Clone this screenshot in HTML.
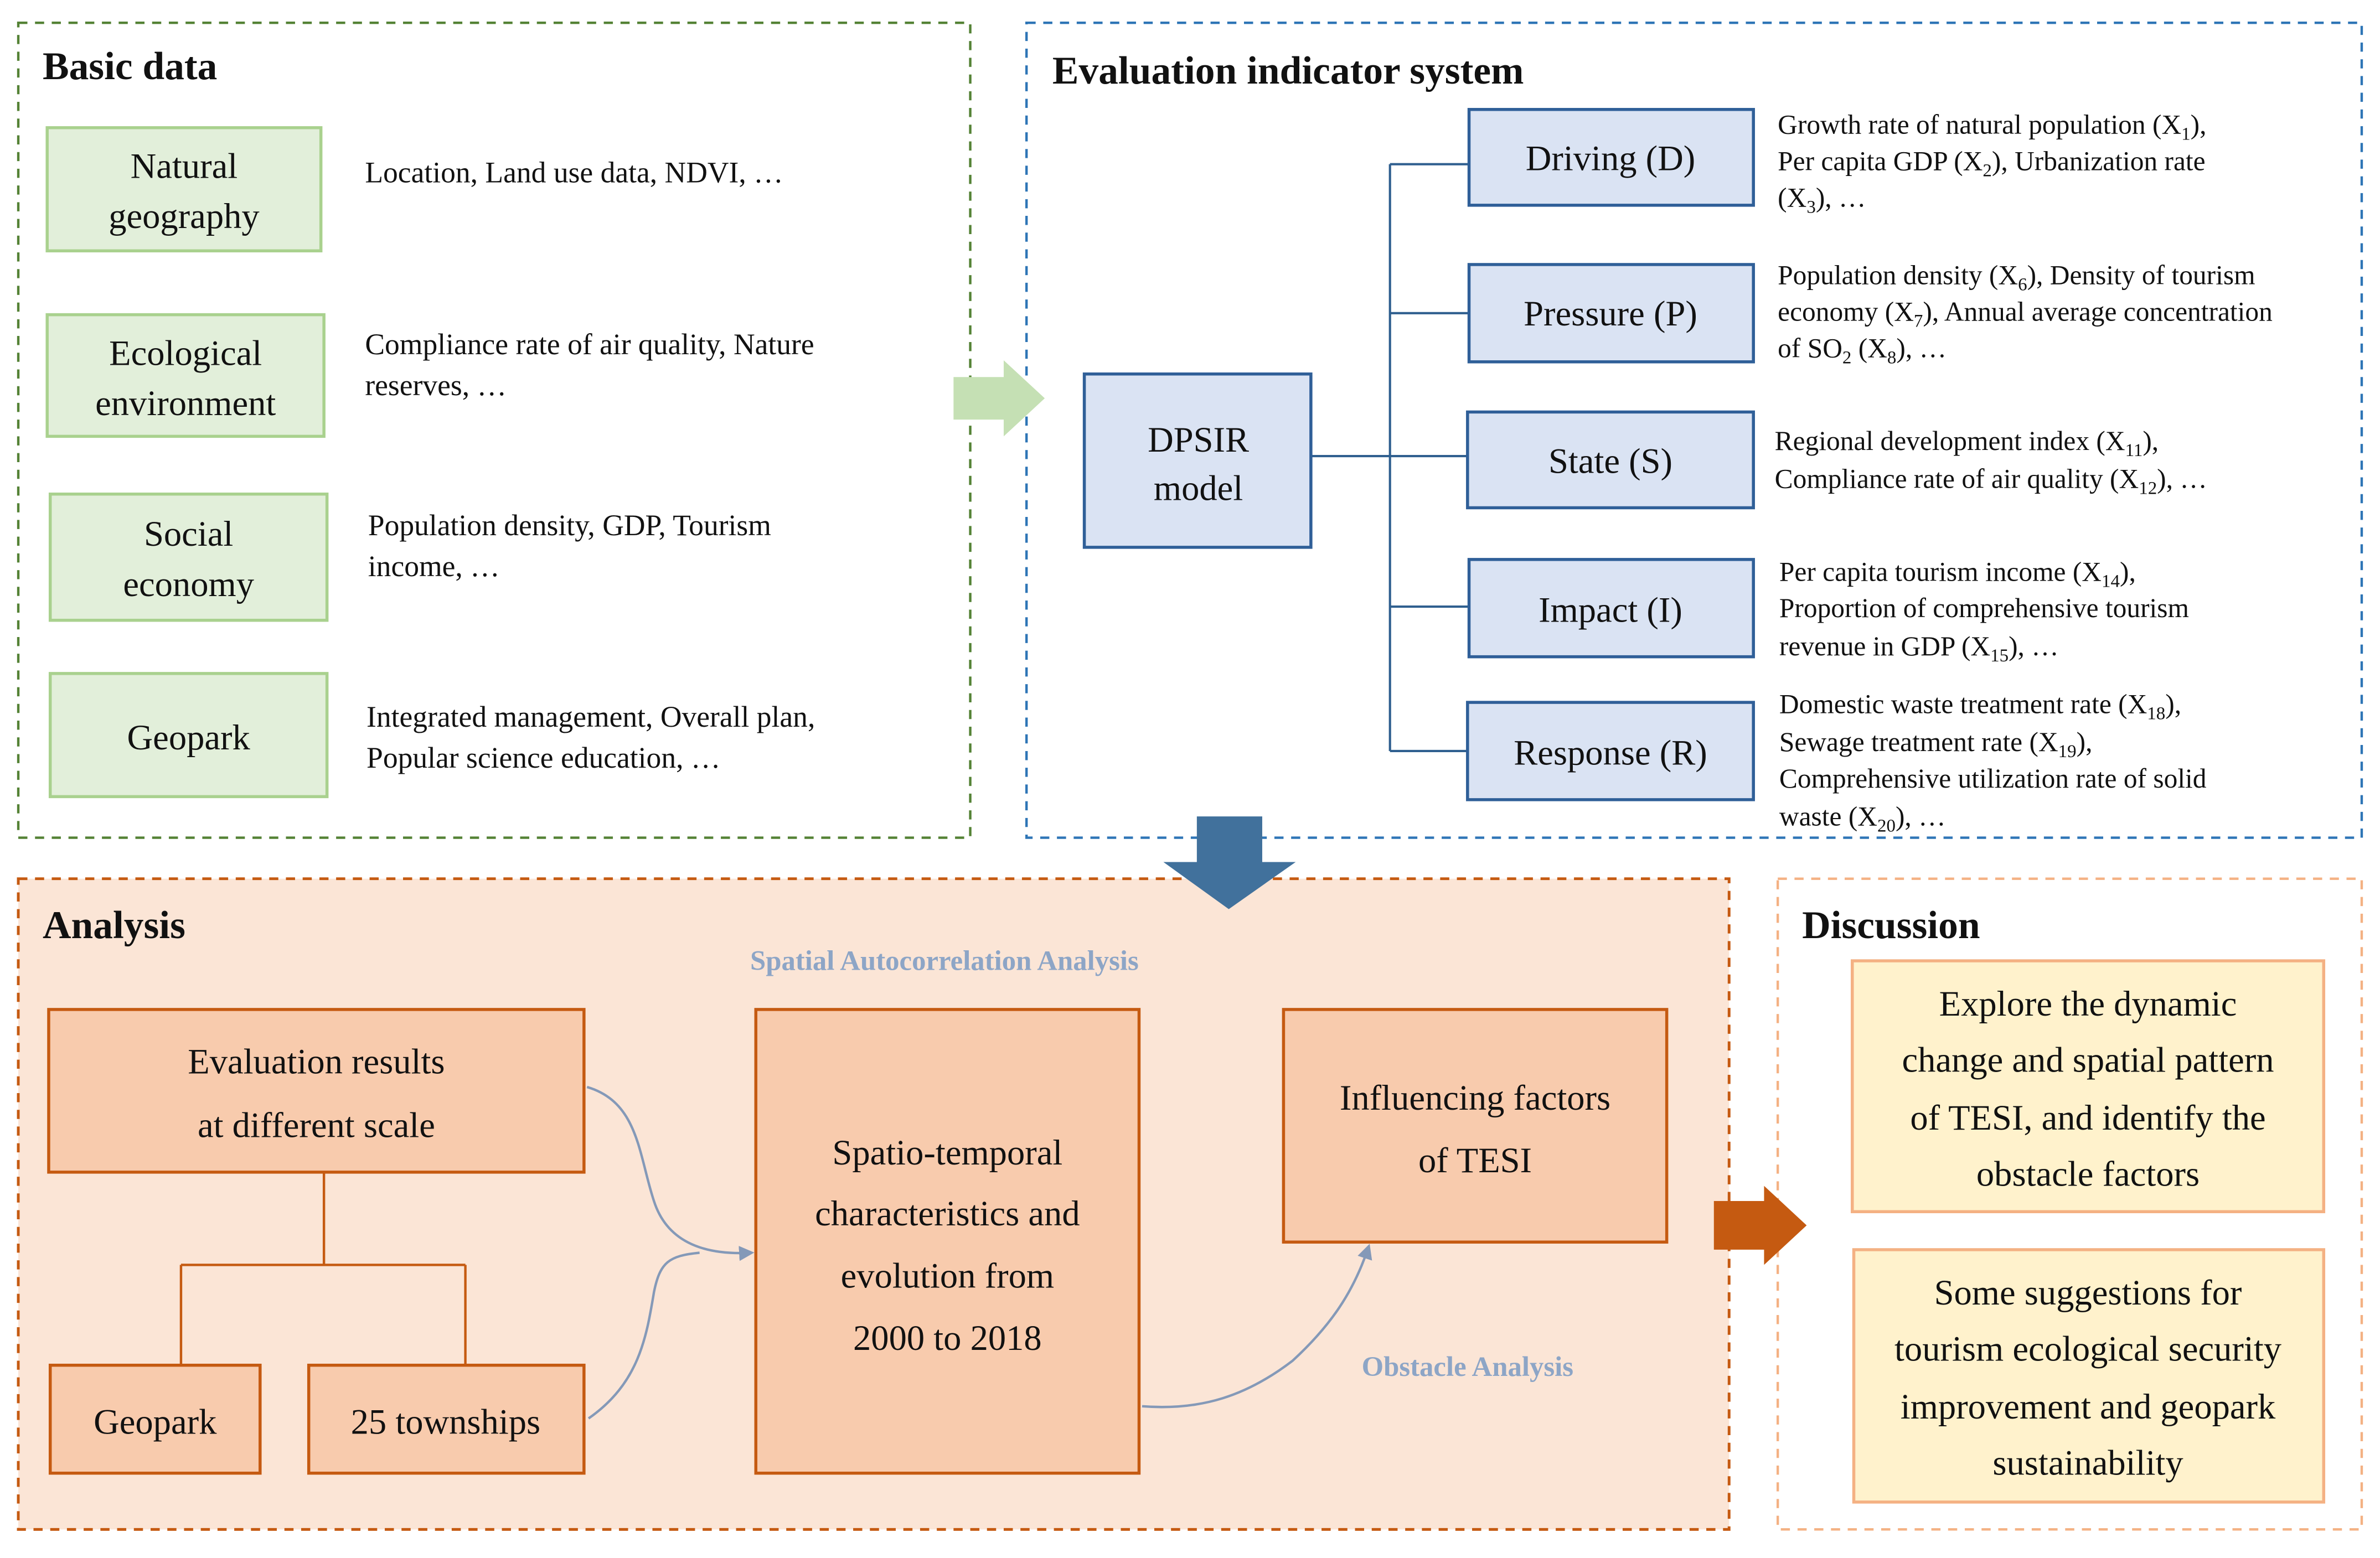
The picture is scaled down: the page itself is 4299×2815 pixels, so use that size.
<!DOCTYPE html>
<html><head><meta charset="utf-8"><style>html,body{margin:0;padding:0;background:#fff}svg{display:block}svg text{font-family:"Liberation Serif","Noto Serif CJK SC","DejaVu Serif",serif;font-weight:normal;fill:#111}.t{font-size:23.5px}.d{font-size:19.5px}.r{font-size:18px}svg text.h{font-size:26px;font-weight:bold}.c{text-anchor:middle}svg text.b{font-size:18.5px;font-weight:bold;fill:#8da5c6}</style></head><body>
<svg width="4299" height="2815" viewBox="0 0 1565 1024.8" xmlns="http://www.w3.org/2000/svg">
<defs><marker id="ar" markerWidth="10" markerHeight="10" refX="8" refY="5" orient="auto" markerUnits="userSpaceOnUse"><path d="M0,0 L10,5 L0,10 z" fill="#8499b8"/></marker></defs>
<rect x="12" y="15" width="626" height="536" fill="#fff" stroke="#548235" stroke-width="1.6" stroke-dasharray="6,5"/>
<text x="28" y="52" class="h">Basic data</text>
<g fill="#e2efda" stroke="#a9d18e" stroke-width="2">
<rect x="31" y="84" width="180" height="81"/><rect x="31" y="207" width="182" height="80"/><rect x="33" y="325" width="182" height="83"/><rect x="33" y="443" width="182" height="81"/></g>
<text class="t c" x="121" y="117">Natural</text><text class="t c" x="121" y="150">geography</text>
<text class="t c" x="122" y="240">Ecological</text><text class="t c" x="122" y="273">environment</text>
<text class="t c" x="124" y="359">Social</text><text class="t c" x="124" y="392">economy</text>
<text class="t c" x="124" y="493">Geopark</text>
<text class="d" x="240" y="120">Location, Land use data, NDVI, …</text>
<text class="d" x="240" y="233">Compliance rate of air quality, Nature</text><text class="d" x="240" y="260">reserves, …</text>
<text class="d" x="242" y="352">Population density, GDP, Tourism</text><text class="d" x="242" y="379">income, …</text>
<text class="d" x="241" y="478">Integrated management, Overall plan,</text><text class="d" x="241" y="505">Popular science education, …</text>
<rect x="675" y="15" width="878" height="536" fill="#fff" stroke="#2e75b6" stroke-width="1.6" stroke-dasharray="6,5"/>
<path d="M627,248 H660 V237 L687,262 L660,287 V276 H627 z" fill="#c5e0b4"/>
<text x="692" y="55" class="h">Evaluation indicator system</text>
<g stroke="#2f5f8f" stroke-width="1.5" fill="none"><path d="M862,300 H914 M914,108 V494 M914,108 H966 M914,206 H966 M914,300 H966 M914,399 H966 M914,494 H966"/></g>
<g fill="#dae3f3" stroke="#2f5f98" stroke-width="2">
<rect x="713" y="246" width="149" height="114"/>
<rect x="966" y="72" width="187" height="63"/><rect x="966" y="174" width="187" height="64"/><rect x="965" y="271" width="188" height="63"/><rect x="966" y="368" width="187" height="64"/><rect x="965" y="462" width="188" height="64"/></g>
<text class="t c" x="788" y="297">DPSIR</text><text class="t c" x="788" y="329">model</text>
<text class="t c" x="1059" y="112">Driving (D)</text><text class="t c" x="1059" y="214">Pressure (P)</text><text class="t c" x="1059" y="311">State (S)</text><text class="t c" x="1059" y="409">Impact (I)</text><text class="t c" x="1059" y="503">Response (R)</text>
<text class="r" x="1169" y="88">Growth rate of natural population (X<tspan font-size="12" dy="4">1</tspan><tspan dy="-4">),</tspan></text>
<text class="r" x="1169" y="112">Per capita GDP (X<tspan font-size="12" dy="4">2</tspan><tspan dy="-4">), Urbanization rate</tspan></text>
<text class="r" x="1169" y="136">(X<tspan font-size="12" dy="4">3</tspan><tspan dy="-4">), …</tspan></text>
<text class="r" x="1169" y="187">Population density (X<tspan font-size="12" dy="4">6</tspan><tspan dy="-4">), Density of tourism</tspan></text>
<text class="r" x="1169" y="211">economy (X<tspan font-size="12" dy="4">7</tspan><tspan dy="-4">), Annual average concentration</tspan></text>
<text class="r" x="1169" y="235">of SO<tspan font-size="12" dy="4">2</tspan><tspan dy="-4"> (X</tspan><tspan font-size="12" dy="4">8</tspan><tspan dy="-4">), …</tspan></text>
<text class="r" x="1167" y="296">Regional development index (X<tspan font-size="12" dy="4">11</tspan><tspan dy="-4">),</tspan></text>
<text class="r" x="1167" y="321">Compliance rate of air quality (X<tspan font-size="12" dy="4">12</tspan><tspan dy="-4">), …</tspan></text>
<text class="r" x="1170" y="382">Per capita tourism income (X<tspan font-size="12" dy="4">14</tspan><tspan dy="-4">),</tspan></text>
<text class="r" x="1170" y="406">Proportion of comprehensive tourism</text>
<text class="r" x="1170" y="431">revenue in GDP (X<tspan font-size="12" dy="4">15</tspan><tspan dy="-4">), …</tspan></text>
<text class="r" x="1170" y="469">Domestic waste treatment rate (X<tspan font-size="12" dy="4">18</tspan><tspan dy="-4">),</tspan></text>
<text class="r" x="1170" y="494">Sewage treatment rate (X<tspan font-size="12" dy="4">19</tspan><tspan dy="-4">),</tspan></text>
<text class="r" x="1170" y="518">Comprehensive utilization rate of solid</text>
<text class="r" x="1170" y="543">waste (X<tspan font-size="12" dy="4">20</tspan><tspan dy="-4">), …</tspan></text>
<rect x="12" y="578" width="1125" height="428" fill="#fbe5d6" stroke="#c55a11" stroke-width="1.8" stroke-dasharray="6,5"/>
<path d="M787,537 H830 V567 H852 L808,598 L765,567 H787 z" fill="#41719c"/>
<text x="28" y="617" class="h">Analysis</text>
<text class="b c" x="621" y="638">Spatial Autocorrelation Analysis</text>
<g stroke="#c55a11" stroke-width="1.6" fill="none"><path d="M213,771 V832 M119,832 H306 M119,832 V898 M306,832 V898"/></g>
<g fill="#f8cbad" stroke="#c55a11" stroke-width="2">
<rect x="32" y="664" width="352" height="107"/><rect x="33" y="898" width="138" height="71"/><rect x="203" y="898" width="181" height="71"/><rect x="497" y="664" width="252" height="305"/><rect x="844" y="664" width="252" height="153"/></g>
<text class="t c" x="208" y="706">Evaluation results</text><text class="t c" x="208" y="748">at different scale</text>
<text class="t c" x="102" y="943">Geopark</text><text class="t c" x="293" y="943">25 townships</text>
<text class="t c" x="623" y="766">Spatio-temporal</text><text class="t c" x="623" y="806">characteristics and</text><text class="t c" x="623" y="847">evolution from</text><text class="t c" x="623" y="888">2000 to 2018</text>
<text class="t c" x="970" y="730">Influencing factors</text><text class="t c" x="970" y="771">of TESI</text>
<g stroke="#8499b8" stroke-width="1.6" fill="none">
<path d="M386,715 C420,725 420,760 430,790 C438,815 460,826 494,824" marker-end="url(#ar)"/>
<path d="M387,933 C420,910 425,880 430,850 C434,830 440,826 460,824"/>
<path d="M751,925 C790,928 820,918 850,895 C875,872 890,850 900,820" marker-end="url(#ar)"/>
</g>
<text class="b c" x="965" y="905">Obstacle Analysis</text>
<rect x="1169" y="578" width="384" height="428" fill="#fff" stroke="#f4b183" stroke-width="1.6" stroke-dasharray="6,5"/>
<path d="M1127,790 H1160 V780 L1188,806 L1160,832 V822 H1127 z" fill="#c55a11"/>
<text x="1185" y="617" class="h">Discussion</text>
<g fill="#fff2cc" stroke="#f4b183" stroke-width="2"><rect x="1218" y="632" width="310" height="165"/><rect x="1219" y="822" width="309" height="166"/></g>
<text class="t c" x="1373" y="668">Explore the dynamic</text><text class="t c" x="1373" y="705">change and spatial pattern</text><text class="t c" x="1373" y="743">of TESI, and identify the</text><text class="t c" x="1373" y="780">obstacle factors</text>
<text class="t c" x="1373" y="858">Some suggestions for</text><text class="t c" x="1373" y="895">tourism ecological security</text><text class="t c" x="1373" y="933">improvement and geopark</text><text class="t c" x="1373" y="970">sustainability</text>
</svg>
</body></html>
